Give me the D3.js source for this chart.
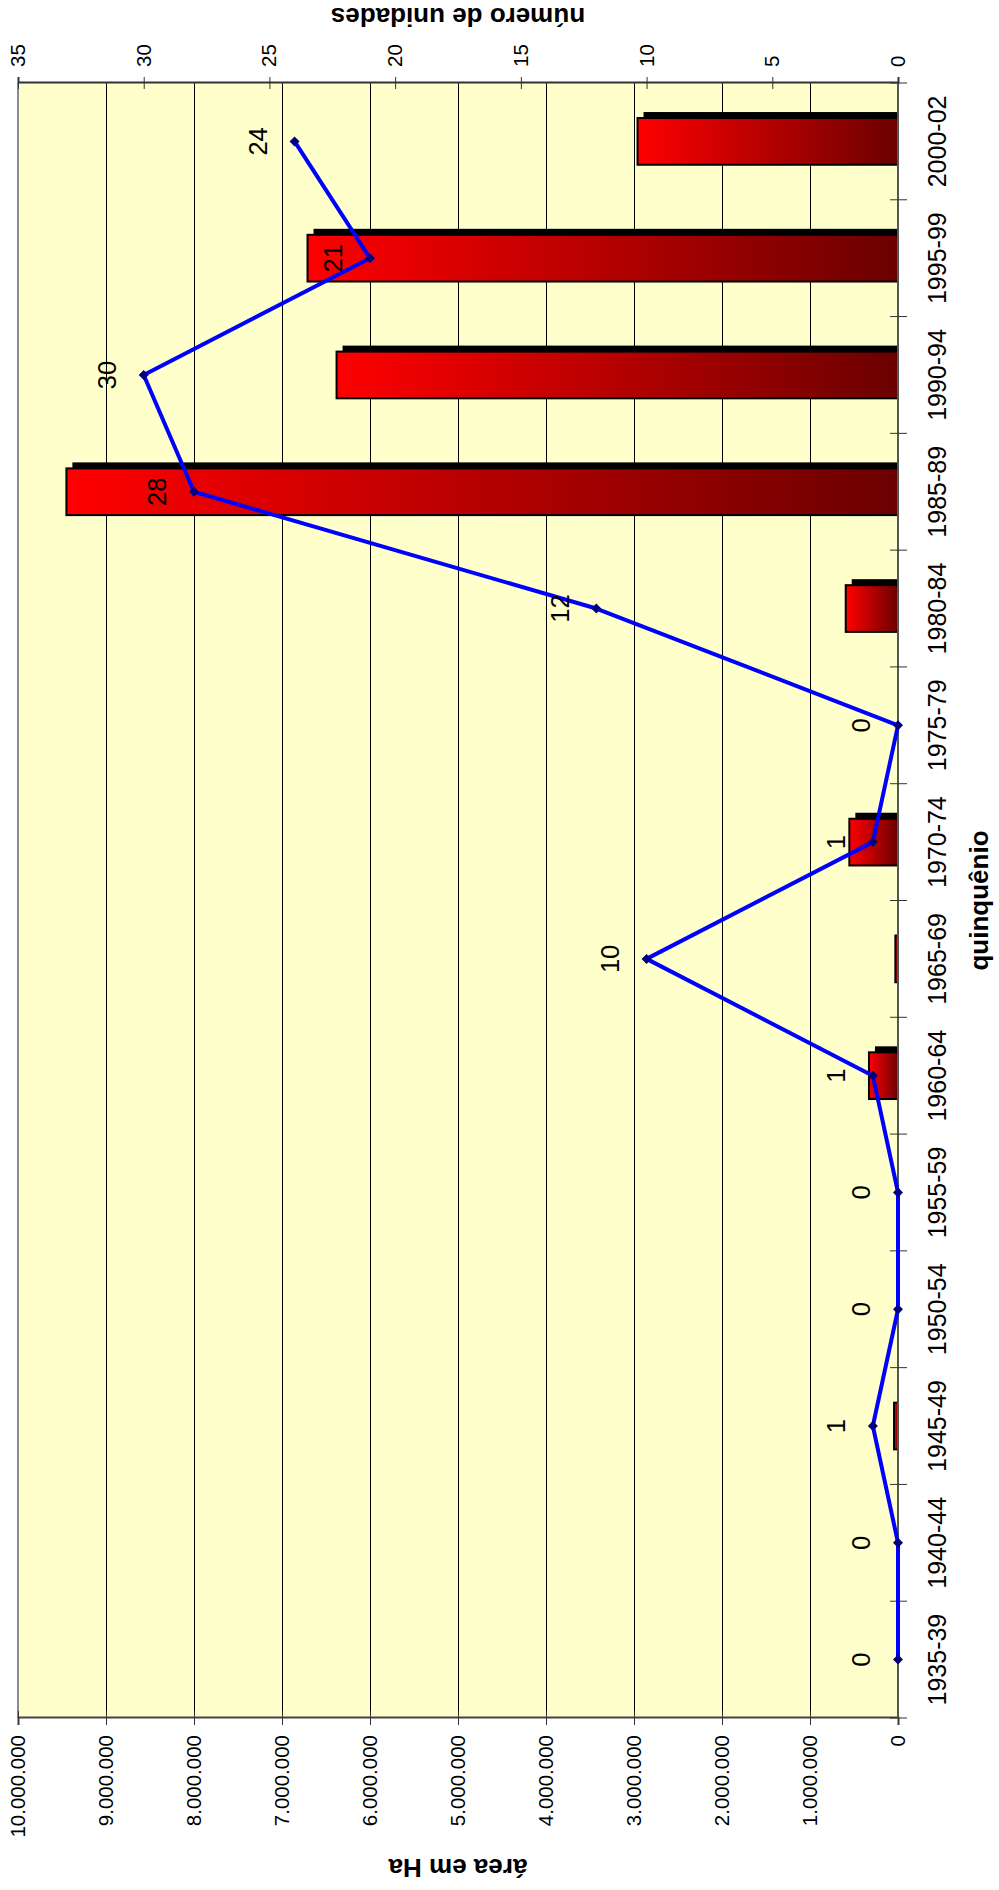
<!DOCTYPE html>
<html>
<head>
<meta charset="utf-8">
<script src="https://cdn.jsdelivr.net/npm/d3@7/dist/d3.min.js"></script>
<style>
  html, body { margin: 0; padding: 0; background: #ffffff; }
  svg { display: block; }
  text { font-family: "Liberation Sans", Arial, sans-serif; fill: #000; }
</style>
</head>
<body>
<svg id="chart" width="999" height="1890"></svg>
<script>
// Five-year periods (quinquênios)
const categories = ["1935-39", "1940-44", "1945-49", "1950-54", "1955-59", "1960-64", "1965-69",
                    "1970-74", "1975-79", "1980-84", "1985-89", "1990-94", "1995-99", "2000-02"];
// Area in hectares (bars, left axis)
const areaHa = [0, 0, 45000, 0, 0, 330000, 30000, 553000, 0, 594000, 9450000, 6380000, 6710000, 2960000];
// Number of units (line, right axis)
const units = [0, 0, 1, 0, 0, 1, 10, 1, 0, 12, 28, 30, 21, 24];
// Axis tick values
const areaTicks = [0, 1000000, 2000000, 3000000, 4000000, 5000000, 6000000, 7000000, 8000000, 9000000, 10000000];
const unitTicks = [0, 5, 10, 15, 20, 25, 30, 35];

const titleArea = "área em Ha";
const titleUnits = "número de unidades";
const titleCat = "quinquênio";

// The chart is laid out as a regular column chart (1890 wide, 999 tall)
// and then turned a quarter turn counter-clockwise onto the page.
const W = 1890, H = 999;
const plot = { left: 172, right: 1807, top: 18, bottom: 898 };

const svg = d3.select("#chart");
const g = svg.append("g").attr("transform", `translate(0,${W}) rotate(-90)`);

const locale = d3.formatLocale({ decimal: ",", thousands: ".", grouping: [3], currency: ["", ""] });
const fmt = locale.format(",d");

const x = d3.scaleBand().domain(categories).range([plot.left, plot.right])
  .paddingInner(0.6).paddingOuter(0.3);
const step = x.step();
const yA = d3.scaleLinear().domain([0, 10000000]).range([plot.bottom, plot.top]);
const yN = d3.scaleLinear().domain([0, 35]).range([plot.bottom, plot.top]);

// gradient for the bars: bright red at the top, dark red at the base
const defs = svg.append("defs");
const grad = defs.append("linearGradient").attr("id", "barGrad")
  .attr("x1", 0).attr("y1", 0).attr("x2", 0).attr("y2", 1);
grad.append("stop").attr("offset", "0%").attr("stop-color", "#ff0000");
grad.append("stop").attr("offset", "100%").attr("stop-color", "#6b0000");

// plot background
g.append("rect")
  .attr("x", plot.left).attr("y", plot.top)
  .attr("width", plot.right - plot.left).attr("height", plot.bottom - plot.top)
  .attr("fill", "#ffffcc");

// horizontal gridlines on the area scale
g.append("g").selectAll("line").data(areaTicks.filter(t => t > 0 && t < 10000000)).join("line")
  .attr("x1", plot.left).attr("x2", plot.right)
  .attr("y1", d => yA(d)).attr("y2", d => yA(d))
  .attr("stroke", "#000").attr("stroke-width", 1).attr("shape-rendering", "crispEdges");

// top border of the plot area
g.append("line")
  .attr("x1", plot.left).attr("x2", plot.right)
  .attr("y1", plot.top).attr("y2", plot.top)
  .attr("stroke", "#8c8c8c").attr("stroke-width", 2);

// bars with a drop shadow
const barData = categories.map((c, i) => ({ c, v: areaHa[i] })).filter(d => d.v > 0);
const bw = x.bandwidth();
g.append("g").selectAll("rect").data(barData).join("rect")
  .attr("x", d => x(d.c) + 6)
  .attr("y", d => yA(d.v) + 6)
  .attr("width", bw)
  .attr("height", d => Math.max(0, yA(0) - yA(d.v) - 6))
  .attr("fill", "#000");
g.append("g").selectAll("rect").data(barData).join("rect")
  .attr("x", d => x(d.c))
  .attr("y", d => yA(d.v))
  .attr("width", bw)
  .attr("height", d => yA(0) - yA(d.v))
  .attr("fill", "url(#barGrad)")
  .attr("stroke", "#000").attr("stroke-width", 2);

// left axis (area)
const axA = g.append("g").attr("transform", `translate(${plot.left},0)`)
  .call(d3.axisLeft(yA).tickValues(areaTicks).tickFormat(fmt).tickSize(7).tickPadding(10));
axA.select(".domain").attr("stroke", "#444").attr("stroke-width", 2);
axA.selectAll(".tick line").attr("x1", 7).attr("stroke", "#333");
axA.selectAll("text").attr("font-size", "20.5px").attr("font-family", null);

// right axis (units)
const axN = g.append("g").attr("transform", `translate(${plot.right},0)`)
  .call(d3.axisRight(yN).tickValues(unitTicks).tickSize(6).tickPadding(10));
axN.select(".domain").attr("stroke", "#333").attr("stroke-width", 2);
axN.selectAll(".tick line").attr("x1", -6).attr("stroke", "#333");
axN.selectAll("text").attr("font-size", "20.5px").attr("font-family", null);

// category axis
g.append("line")
  .attr("x1", plot.left).attr("x2", plot.right)
  .attr("y1", plot.bottom).attr("y2", plot.bottom)
  .attr("stroke", "#555").attr("stroke-width", 2);
g.append("g").selectAll("line").data(d3.range(categories.length + 1)).join("line")
  .attr("x1", i => plot.left + i * step).attr("x2", i => plot.left + i * step)
  .attr("y1", plot.bottom - 8).attr("y2", plot.bottom + 9)
  .attr("stroke", "#333").attr("stroke-width", 1);
g.append("g").selectAll("text").data(categories).join("text")
  .attr("x", d => x(d) + bw / 2)
  .attr("y", plot.bottom + 48)
  .attr("text-anchor", "middle")
  .attr("font-size", "25px")
  .text(d => d);

// line series for number of units
const lineData = categories.map((c, i) => ({ c, v: units[i] }));
const cx = d => x(d.c) + bw / 2;
g.append("path").datum(lineData)
  .attr("d", d3.line().x(cx).y(d => yN(d.v)))
  .attr("fill", "none").attr("stroke", "#0000ff").attr("stroke-width", 4)
  .attr("stroke-linejoin", "round");
g.append("g").selectAll("path").data(lineData).join("path")
  .attr("transform", d => `translate(${cx(d)},${yN(d.v)})`)
  .attr("d", "M0,-5L5,0L0,5L-5,0Z")
  .attr("fill", "#000080");

// value labels
g.append("g").selectAll("text").data(lineData).join("text")
  .attr("x", cx)
  .attr("y", d => yN(d.v) - 36.5)
  .attr("dy", "0.35em")
  .attr("text-anchor", "middle")
  .attr("font-size", "25.5px")
  .text(d => d.v);

// axis titles
g.append("text")
  .attr("transform", `translate(31,${(plot.top + plot.bottom) / 2}) rotate(-90)`)
  .attr("text-anchor", "middle").attr("font-weight", "bold").attr("font-size", "26px")
  .text(titleArea);
g.append("text")
  .attr("transform", `translate(1882,${(plot.top + plot.bottom) / 2}) rotate(-90)`)
  .attr("text-anchor", "middle").attr("font-weight", "bold").attr("font-size", "26px")
  .text(titleUnits);
g.append("text")
  .attr("x", (plot.left + plot.right) / 2).attr("y", 988)
  .attr("text-anchor", "middle").attr("font-weight", "bold").attr("font-size", "26px")
  .text(titleCat);
</script>
</body>
</html>
